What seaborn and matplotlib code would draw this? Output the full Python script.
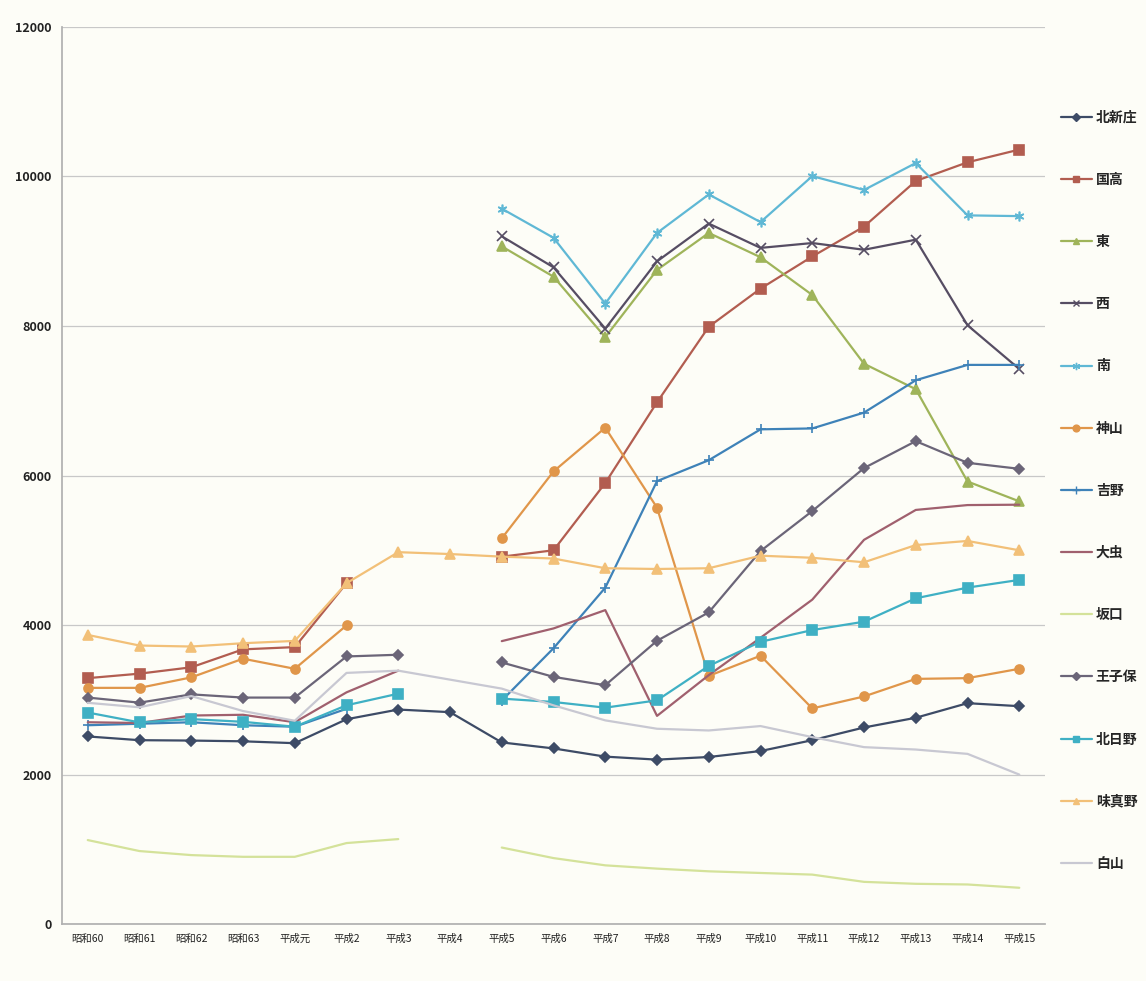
import numpy as np
import pandas as pd
import seaborn as sns
import matplotlib.pyplot as plt
from matplotlib.lines import Line2D

nan = np.nan

# x categories (year labels)
years = ["昭和60", "昭和61", "昭和62", "昭和63", "平成元", "平成2", "平成3", "平成4",
         "平成5", "平成6", "平成7", "平成8", "平成9", "平成10", "平成11", "平成12",
         "平成13", "平成14", "平成15"]

kitashinjo = [2510, 2460, 2455, 2445, 2420, 2740, 2870, 2835, 2430, 2350, 2240, 2200,
              2235, 2315, 2460, 2630, 2760, 2955, 2915]
kunitaka = [3290, 3350, 3435, 3675, 3705, 4560, nan, nan, 4915, 5000, 5900, 6980,
            7990, 8500, 8930, 9330, 9940, 10190, 10360]
higashi = [nan] * 8 + [9065, 8660, 7850, 8750, 9245, 8920, 8415, 7495, 7155, 5920, 5655]
nishi = [nan] * 8 + [9200, 8785, 7965, 8865, 9370, 9045, 9110, 9020, 9155, 8010, 7425]
minami = [nan] * 8 + [9570, 9180, 8300, 9245, 9760, 9390, 10005, 9820, 10180, 9480, 9470]
kamiyama = [3160, 3160, 3300, 3550, 3415, 3995, nan, nan, 5160, 6055, 6640, 5570,
            3320, 3590, 2885, 3045, 3280, 3290, 3415]
yoshino = [2660, 2680, 2700, 2660, 2640, 2880, nan, nan, 2990, 3690, 4500, 5925,
           6205, 6618, 6630, 6842, 7275, 7480, 7480]
omushi = [2700, 2690, 2790, 2800, 2700, 3100, 3390, nan, 3785, 3955, 4200, 2785,
          3330, 3830, 4340, 5140, 5540, 5605, 5610]
sakaguchi = [1124, 977, 923, 900, 900, 1084, 1137, nan, 1024, 883, 786, 742,
             706, 684, 662, 565, 539, 530, 486]
oshiho = [3030, 2962, 3073, 3030, 3030, 3580, 3603, nan, 3500, 3307, 3195, 3790,
          4170, 4990, 5525, 6100, 6460, 6170, 6090]
kitahino = [2830, 2698, 2742, 2706, 2640, 2927, 3082, nan, 3016, 2971, 2895, 2993,
            3454, 3776, 3933, 4045, 4358, 4501, 4604]
ajimano = [3868, 3726, 3713, 3757, 3788, 4560, 4975, 4950, 4915, 4890, 4760, 4750,
           4760, 4928, 4900, 4840, 5070, 5125, 5000]
hakusan = [2960, 2900, 3050, 2850, 2720, 3360, 3390, 3270, 3150, 2926, 2725, 2613,
           2590, 2649, 2501, 2367, 2335, 2277, 2000]

names = ["北新庄", "国高", "東", "西", "南", "神山", "吉野", "大虫", "坂口",
         "王子保", "北日野", "味真野", "白山"]
series = [kitashinjo, kunitaka, higashi, nishi, minami, kamiyama, yoshino, omushi,
          sakaguchi, oshiho, kitahino, ajimano, hakusan]
colors = ["#3d4b66", "#b25d50", "#9fb45a", "#564d63", "#5fb8d5", "#e0964a", "#3e82b8",
          "#a0606e", "#d4e29a", "#6b6578", "#3fb0c4", "#f2c078", "#c8c8d2"]
markers = ["D", "s", "^", "x", (6, 2, 0), "o", "+", None, None, "D", "s", "^", None]
msizes = [5.5, 6.5, 6.5, 6.5, 7, 6.5, 7, 0, 0, 5.5, 6.5, 6.5, 0]

sns.set_theme(style="white")
plt.rcParams["font.family"] = ["Noto Sans CJK JP", "DejaVu Sans"]

fig = plt.figure(figsize=(11.46, 9.81), dpi=100, facecolor="#fdfdf7")
ax = fig.add_axes([0.054, 0.058, 0.858, 0.9145])
ax.set_facecolor("#fdfdf7")

x = np.arange(len(years))
handles = []
for name, vals, c, m, ms in zip(names, series, colors, markers, msizes):
    df = pd.DataFrame({"x": x, "y": vals})
    df["seg"] = df["y"].isna().cumsum()
    df = df.dropna()
    for _, seg in df.groupby("seg"):
        sns.lineplot(data=seg, x="x", y="y", color=c, marker=m, markersize=ms,
                     markeredgecolor=c, markeredgewidth=1.2, linewidth=1.6, ax=ax,
                     legend=False)
    handles.append(Line2D([], [], color=c, marker=m, markersize=ms * 0.75,
                          markeredgecolor=c, linewidth=1.6, label=name))

ax.set_xlim(-0.5, len(years) - 0.5)
ax.set_ylim(0, 12000)
ax.set_yticks(range(0, 12001, 2000))
ax.set_xticks(x)
ax.set_xticklabels(years, fontsize=7.5, color="#222222")
ax.tick_params(axis="y", labelsize=9, colors="#222222", length=4)
ax.tick_params(axis="x", length=3, pad=4)
for lab in ax.get_yticklabels():
    lab.set_fontweight("bold")
ax.grid(axis="y", color="#c8c8c8", linewidth=0.9)
ax.set_xlabel("")
ax.set_ylabel("")
for s in ["top", "right"]:
    ax.spines[s].set_visible(False)
for s in ["left", "bottom"]:
    ax.spines[s].set_color("#b0b0b0")

leg = fig.legend(handles=handles, loc="upper left", bbox_to_anchor=(0.915, 0.9),
                 frameon=False, fontsize=10, labelspacing=3.47, handlelength=2.2,
                 handletextpad=0.3)
for t in leg.get_texts():
    t.set_fontweight("bold")

fig.savefig("out.png", dpi=100, facecolor=fig.get_facecolor())
